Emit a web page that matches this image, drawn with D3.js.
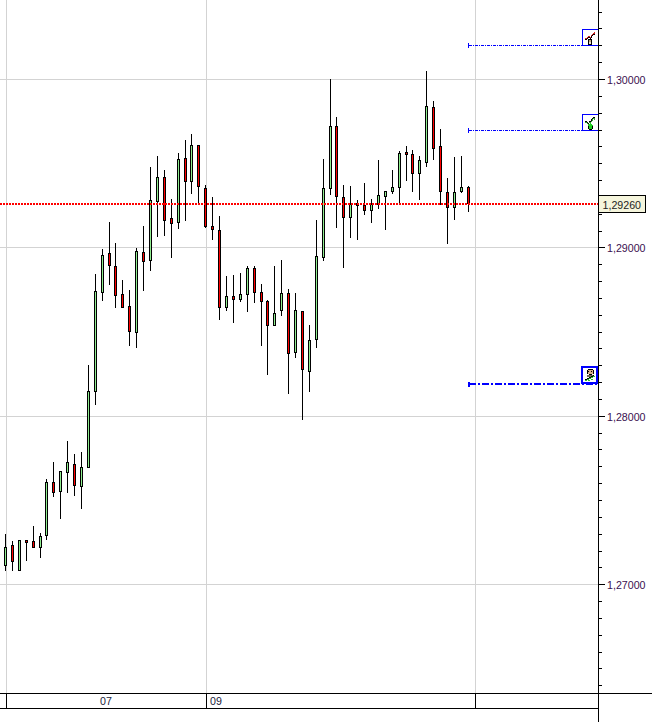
<!DOCTYPE html>
<html><head><meta charset="utf-8">
<script src="https://cdn.jsdelivr.net/npm/d3@7"></script>
<style>html,body{margin:0;padding:0;background:#fff}svg{display:block}text{font-family:"Liberation Sans",Arial,sans-serif}</style>
</head><body><div id="c"></div>
<script>
const open=[1.27114,1.27233,1.27084,1.27263,1.27257,1.27221,1.27292,1.27607,1.27554,1.27666,1.27714,1.27583,1.27696,1.28147,1.28735,1.28967,1.28890,1.28723,1.28652,1.28498,1.28973,1.28925,1.29276,1.29418,1.29175,1.29151,1.29531,1.29394,1.29608,1.29353,1.29127,1.29103,1.28646,1.28711,1.28694,1.28723,1.28878,1.28735,1.28682,1.28539,1.28628,1.28729,1.28379,1.28622,1.28266,1.28456,1.28943,1.29353,1.29721,1.29299,1.29181,1.29264,1.29252,1.29222,1.29258,1.29305,1.29335,1.29359,1.29567,1.29555,1.29442,1.29507,1.29834,1.29602,1.29329,1.29240,1.29335,1.29359];
const high=[1.27298,1.27257,1.27263,1.27263,1.27346,1.27304,1.27625,1.27726,1.27672,1.27850,1.27773,1.27785,1.28302,1.28842,1.28991,1.29151,1.29026,1.28806,1.28747,1.28996,1.29127,1.29477,1.29543,1.29460,1.29287,1.29561,1.29638,1.29673,1.29608,1.29371,1.29299,1.29186,1.28830,1.28836,1.28848,1.28890,1.28890,1.28783,1.28688,1.28890,1.28925,1.28753,1.28729,1.28622,1.28539,1.29163,1.29525,1.30000,1.29774,1.29371,1.29365,1.29282,1.29382,1.29287,1.29519,1.29335,1.29460,1.29572,1.29602,1.29578,1.29543,1.30048,1.29869,1.29703,1.29412,1.29537,1.29543,1.29365];
const low=[1.27084,1.27084,1.27084,1.27144,1.27221,1.27162,1.27269,1.27524,1.27393,1.27548,1.27530,1.27453,1.27696,1.28070,1.28688,1.28783,1.28646,1.28646,1.28420,1.28409,1.28747,1.28866,1.29068,1.29074,1.28943,1.29115,1.29163,1.29323,1.29270,1.29121,1.29050,1.28575,1.28628,1.28557,1.28682,1.28622,1.28676,1.28420,1.28248,1.28539,1.28599,1.28135,1.28349,1.27981,1.28147,1.28409,1.28925,1.29317,1.29121,1.28884,1.29062,1.29050,1.29198,1.29151,1.29234,1.29109,1.29323,1.29270,1.29400,1.29335,1.29287,1.29483,1.29525,1.29258,1.29026,1.29169,1.29329,1.29216];
const close=[1.27221,1.27138,1.27263,1.27251,1.27221,1.27286,1.27607,1.27548,1.27672,1.27726,1.27589,1.27696,1.28147,1.28741,1.28955,1.28896,1.28717,1.28646,1.28504,1.28979,1.28919,1.29282,1.29418,1.29163,1.29145,1.29525,1.29394,1.29608,1.29365,1.29127,1.29109,1.28646,1.28711,1.28694,1.28723,1.28878,1.28735,1.28682,1.28539,1.28611,1.28729,1.28373,1.28628,1.28278,1.28450,1.28949,1.29353,1.29721,1.29305,1.29181,1.29258,1.29252,1.29222,1.29258,1.29311,1.29335,1.29359,1.29561,1.29555,1.29442,1.29519,1.29840,1.29590,1.29335,1.29240,1.29329,1.29359,1.29264];
const priceTicks=[1.30,1.29,1.28,1.27];
const priceLabels=["1,30000","1,29000","1,28000","1,27000"];
const minorTicks=[1.304,1.303,1.302,1.301,1.30,1.299,1.298,1.297,1.296,1.295,1.294,1.293,1.292,1.291,1.29,1.289,1.288,1.287,1.286,1.285,1.284,1.283,1.282,1.281,1.28,1.279,1.278,1.277,1.276,1.275,1.274,1.273,1.272,1.271,1.27,1.269,1.268,1.267,1.266,1.265,1.264];
const lastPrice=1.29260, lastLabel="1,29260";
const timeBreaks=[0,29,68];
const timeLabels=["07","09"];
const levels=[1.30200,1.29696,1.28192];
const levelIcons=["sell","buy","person"];
const levelWidths=[1,1,2];

const W=653,H=722,axisX=599,bandTop=693,bandBot=708;
const svg=d3.select("#c").append("svg").attr("width",W).attr("height",H).attr("viewBox",`0 0 ${W} ${H}`);
const y=d3.scaleLinear().domain([1.30,1.27]).range([79.5,584.7]);
const x=d3.scaleLinear().domain([0,67]).range([5.5,468.2]);
const px=v=>Math.floor(v)+.5, py=v=>Math.round(y(v)-.5)+.5;
const crisp=svg.append("g").attr("shape-rendering","crispEdges");

// grid
const gridC="#d3d3d3";
crisp.selectAll(".gh").data(priceTicks).join("line").attr("x1",0).attr("x2",axisX)
 .attr("y1",py).attr("y2",py).attr("stroke",gridC);
const timeX=timeBreaks.map(i=>Math.floor(x(i)+.5)+.5);
crisp.selectAll(".gv").data(timeX).join("line").attr("x1",d=>d).attr("x2",d=>d)
 .attr("y1",0).attr("y2",bandTop).attr("stroke",gridC);

// candles
const idx=d3.range(open.length);
crisp.selectAll(".w").data(idx).join("line")
 .attr("x1",i=>px(x(i))).attr("x2",i=>px(x(i)))
 .attr("y1",i=>py(high[i])-.5).attr("y2",i=>py(low[i])+.5)
 .attr("stroke","#000");
crisp.selectAll(".b").data(idx).join("rect")
 .attr("x",i=>px(x(i))-1).attr("width",2)
 .attr("y",i=>py(Math.max(open[i],close[i])))
 .attr("height",i=>Math.max(1,py(Math.min(open[i],close[i]))-py(Math.max(open[i],close[i]))))
 .attr("fill",i=>close[i]>=open[i]?"#90ee90":"#ff0000").attr("stroke","#000");

// last price line
crisp.append("line").attr("x1",0).attr("x2",axisX).attr("y1",Math.round(y(lastPrice))).attr("y2",Math.round(y(lastPrice)))
 .attr("stroke","#ff0000").attr("stroke-width",2).attr("stroke-dasharray","2 1");

// levels
const blue="#0000ff";
levels.forEach((lv,k)=>{
  const sw=levelWidths[k], yy=sw>1?Math.round(y(lv)):py(lv);
  const xs=px(x(67))+(sw>1?.5:0);
  crisp.append("line").attr("x1",xs).attr("x2",axisX).attr("y1",yy).attr("y2",yy)
   .attr("stroke",blue).attr("stroke-width",sw).attr("stroke-dasharray",sw>1?"7 2 2 2":"3 1 1 1");
  crisp.append("line").attr("x1",xs).attr("x2",xs).attr("y1",yy-2.5).attr("y2",yy+2.5)
   .attr("stroke",blue).attr("stroke-width",sw);
  const g=crisp.append("g").attr("transform",`translate(582,${yy-16})`);
  if(sw>1) g.append("rect").attr("x",0).attr("y",-1).attr("width",15).attr("height",16).attr("fill","#fff").attr("stroke",blue).attr("stroke-width",2);
  else g.append("rect").attr("x",.5).attr("y",0).attr("width",16).attr("height",16).attr("fill","#fff").attr("stroke",blue);
  const ic=levelIcons[k];
  const base=sw>1?-1.5:-.5;
  const pix=(c,a)=>a.forEach(p=>g.append("rect").attr("x",p[0]).attr("y",p[1]+base+.5).attr("width",p[2]||1).attr("height",p[3]||1).attr("fill",c));
  if(ic==="sell"){
    pix("#000",[[3,9,2,1],[5,8,1,1],[6,7,2,1],[8,8,1,1],[9,6,1,2],[10,5,1,1],[11,4,1,1],[12,4,1,1]]);
    pix("#d02020",[[3,8,2,1],[5,7,1,1],[6,6,2,1],[8,7,1,1],[9,5,1,1],[10,4,1,1],[11,3,2,1],[12,2,1,2]]);
    pix("#000",[[6,9,4,1],[6,10,1,2],[9,10,1,2],[6,12,1,2],[9,12,1,2],[6,14,4,1]]);
    pix("#c8a880",[[7,10,2,2]]);pix("#e8e0d0",[[7,12,2,2]]);
  } else if(ic==="buy"){
    pix("#000",[[3,6,2,1],[5,7,1,1],[6,8,1,1],[7,6,2,1],[9,4,1,2],[10,3,1,1],[11,2,2,1]]);
    pix("#30a030",[[3,7,2,1],[5,8,1,1],[6,9,1,1],[7,7,2,1],[9,6,1,1],[10,5,1,1],[10,4,1,1],[11,3,2,1],[12,4,1,1]]);
    pix("#20d020",[[8,8,1,1],[7,9,3,1],[6,10,5,1],[7,11,3,3]]);
    pix("#000",[[6,11,1,3],[10,11,1,3],[7,14,3,1]]);
  } else {
    pix("#000",[[6,2,5,1],[5,3,1,4],[11,3,1,4]]);
    pix("#d8b088",[[6,3,5,4]]);
    pix("#000",[[6,4,1,1],[9,4,1,1],[7,7,3,1]]);
    pix("#706850",[[5,8,7,2]]);
    pix("#000",[[3,12,2,1],[5,11,2,1],[7,10,2,1],[9,9,2,1],[11,8,1,1]]);
    pix("#30c030",[[3,13,2,1],[5,12,2,1],[7,11,2,1],[9,10,2,1],[11,9,2,1],[6,13,2,1],[9,12,2,1]]);
  }
});

// y axis
crisp.append("line").attr("x1",axisX-.5).attr("x2",axisX-.5).attr("y1",0).attr("y2",H).attr("stroke","#000");
crisp.selectAll(".mt").data(minorTicks).join("line")
 .attr("x1",axisX).attr("x2",d=>axisX+(priceTicks.some(t=>Math.abs(t-d)<1e-6)?6:3))
 .attr("y1",py).attr("y2",py).attr("stroke","#000");
svg.selectAll(".pl").data(priceTicks).join("text").attr("x",607).attr("y",d=>py(d)+4)
 .text((d,i)=>priceLabels[i]).attr("font-size",10.67).attr("fill","#3a1050");

// time band
crisp.append("line").attr("x1",0).attr("x2",W-1).attr("y1",bandTop+.5).attr("y2",bandTop+.5).attr("stroke","#000");
crisp.append("line").attr("x1",0).attr("x2",axisX).attr("y1",bandBot+.5).attr("y2",bandBot+.5).attr("stroke","#000");
crisp.selectAll(".tv").data(timeX).join("line").attr("x1",d=>d).attr("x2",d=>d).attr("y1",bandTop).attr("y2",bandBot)
 .attr("stroke","#000");
svg.append("text").attr("x",(timeX[0]+timeX[1])/2-.5).attr("y",704.5).attr("text-anchor","middle").attr("font-size",10.67).attr("fill","#1a1a3a").text(timeLabels[0]);
svg.append("text").attr("x",timeX[1]+3.5).attr("y",704.5).attr("font-size",10.67).attr("fill","#1a1a3a").text(timeLabels[1]);

// last price label
const ly=py(lastPrice);
crisp.append("rect").attr("x",axisX-.5).attr("y",ly-9).attr("width",47).attr("height",17).attr("fill","#f5f5dc").attr("stroke","#000");
svg.append("text").attr("x",602.5).attr("y",ly+4).attr("font-size",10.67).attr("fill","#222").text(lastLabel);
</script></body></html>
